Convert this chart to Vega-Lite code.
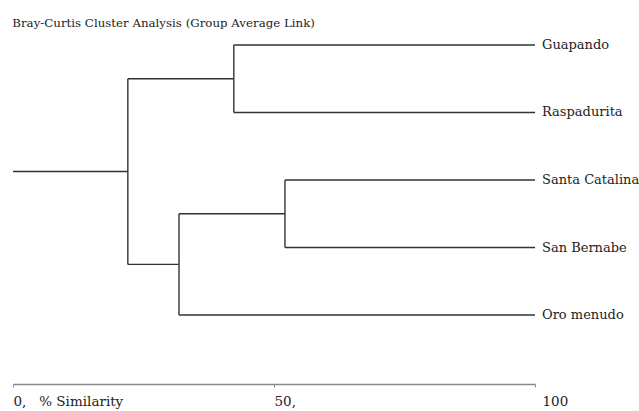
{
  "$schema": "https://vega.github.io/schema/vega-lite/v6.json",
  "width": 522,
  "height": 348,
  "autosize": {"type": "none"},
  "padding": {"left": 13, "top": 36, "right": 104, "bottom": 27},
  "background": "white",
  "title": {
    "text": "Bray-Curtis Cluster Analysis (Group Average Link)",
    "anchor": "start",
    "font": "DejaVu Serif",
    "fontSize": 11.8,
    "fontWeight": "normal",
    "color": "#222222",
    "offset": -3,
    "baseline": "alphabetic"
  },
  "config": {"view": {"stroke": null}},
  "datasets": {
    "segments": [
      {"x": 0, "x2": 22, "y": 2.875, "y2": 2.875},
      {"x": 22, "x2": 42.3, "y": 1.5, "y2": 1.5},
      {"x": 22, "x2": 31.8, "y": 4.25, "y2": 4.25},
      {"x": 31.8, "x2": 52.1, "y": 3.5, "y2": 3.5},
      {"x": 42.3, "x2": 100, "y": 1, "y2": 1},
      {"x": 42.3, "x2": 100, "y": 2, "y2": 2},
      {"x": 52.1, "x2": 100, "y": 3, "y2": 3},
      {"x": 52.1, "x2": 100, "y": 4, "y2": 4},
      {"x": 31.8, "x2": 100, "y": 5, "y2": 5},
      {"x": 22, "x2": 22, "y": 1.5, "y2": 4.25},
      {"x": 42.3, "x2": 42.3, "y": 1, "y2": 2},
      {"x": 31.8, "x2": 31.8, "y": 3.5, "y2": 5},
      {"x": 52.1, "x2": 52.1, "y": 3, "y2": 4}
    ],
    "leaves": [
      {"name": "Guapando", "sim": 100, "row": 1},
      {"name": "Raspadurita", "sim": 100, "row": 2},
      {"name": "Santa Catalina", "sim": 100, "row": 3},
      {"name": "San Bernabe", "sim": 100, "row": 4},
      {"name": "Oro menudo", "sim": 100, "row": 5}
    ]
  },
  "layer": [
    {
      "data": {"name": "segments"},
      "mark": {"type": "rule", "color": "#333333", "strokeWidth": 1.4},
      "encoding": {
        "x": {
          "field": "x",
          "type": "quantitative",
          "scale": {"domain": [0, 100], "nice": false, "zero": false},
          "axis": {
            "values": [0, 50, 100],
            "labelExpr": "datum.value == 0 ? '0,\u00a0\u00a0\u00a0% Similarity' : datum.value == 50 ? '50,' : '100'",
            "labelAlign": "left",
            "labelBaseline": "top",
            "labelFont": "DejaVu Serif",
            "labelFontSize": 13.5,
            "labelColor": "#222222",
            "labelPadding": 7,
            "labelOffset": {"condition": {"test": "datum.value == 100", "value": 7}, "value": 0},
            "labelFlush": false,
            "labelOverlap": false,
            "tickSize": 3,
            "tickColor": "#888888",
            "domainColor": "#888888",
            "domainWidth": 1.5,
            "grid": false,
            "title": null
          }
        },
        "x2": {"field": "x2"},
        "y": {
          "field": "y",
          "type": "quantitative",
          "scale": {"domain": [0.8667, 6.0222], "nice": false, "zero": false, "reverse": true},
          "axis": null
        },
        "y2": {"field": "y2"}
      }
    },
    {
      "data": {"name": "leaves"},
      "mark": {
        "type": "text",
        "align": "left",
        "baseline": "middle",
        "dx": 7,
        "font": "DejaVu Serif",
        "fontSize": 13,
        "color": "#222222"
      },
      "encoding": {
        "x": {"field": "sim", "type": "quantitative"},
        "y": {"field": "row", "type": "quantitative"},
        "text": {"field": "name"}
      }
    }
  ]
}
